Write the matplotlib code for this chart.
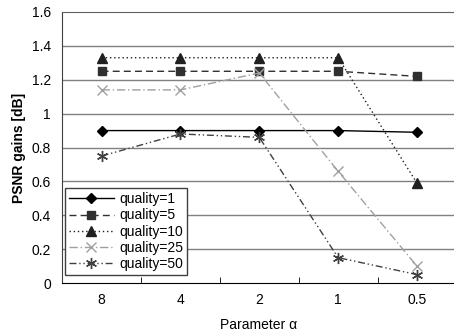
import matplotlib
matplotlib.use('Agg')
import matplotlib.pyplot as plt
import numpy as np

plt.rcParams['font.family'] = ['Liberation Sans', 'DejaVu Sans']

# data
q_labels = ['8', '4', '2', '1', '0.5']
q1 = [0.90, 0.90, 0.90, 0.90, 0.89]
q5 = [1.25, 1.25, 1.25, 1.25, 1.22]
q10 = [1.33, 1.33, 1.33, 1.33, 0.59]
q25 = [1.14, 1.14, 1.24, 0.66, 0.10]
q50 = [0.75, 0.88, 0.86, 0.15, 0.05]

x = np.arange(1, len(q_labels) + 1)

fig = plt.figure(figsize=(4.54, 3.33), dpi=100)
ax = fig.add_axes([0.137, 0.150, 0.863, 0.814])

# horizontal grid
for yv in np.arange(0.2, 1.6, 0.2):
    ax.axhline(yv, color='#808080', lw=1.0, zorder=0)

ax.plot(x, q1, color='black', ls='-', lw=1.0, marker='D', ms=5.5, label='quality=1')
ax.plot(x, q5, color='#303030', ls=(0, (5, 3)), lw=1.0, marker='s', ms=6, label='quality=5')
ax.plot(x, q10, color='#202020', ls=(0, (1, 2)), lw=1.0, marker='^', ms=6.5, label='quality=10')
ax.plot(x, q25, color='#a0a0a0', ls=(0, (6, 2, 1, 2)), lw=1.0, marker='x', ms=7,
        mew=1.0, label='quality=25')
ax.plot(x, q50, color='#404040', ls=(0, (5, 2, 1, 2, 1, 2)), lw=1.0, marker=(6, 2, 0), ms=8,
        mew=1.0, label='quality=50')

ax.set_xlim(0.5, 5.47)
ax.set_ylim(0, 1.6)
ax.set_yticks(np.arange(0, 1.61, 0.2))
ax.set_yticklabels(['0', '0.2', '0.4', '0.6', '0.8', '1', '1.2', '1.4', '1.6'])
ax.set_xticks(x)
ax.set_xticklabels(q_labels)
ax.set_xticks(np.arange(1.5, 5.5, 1), minor=True)
ax.tick_params(axis='x', which='major', length=0, pad=7, labelsize=10)
ax.tick_params(axis='x', which='minor', direction='in', length=4, color='black')
ax.tick_params(axis='y', length=0, pad=8, labelsize=10)

ax.spines['top'].set_linestyle((0, (2, 1)))
ax.spines['top'].set_color('#606060')
ax.spines['right'].set_visible(False)
ax.spines['left'].set_color('#404040')
ax.spines['bottom'].set_color('black')

ax.set_xlabel('Parameter α', fontsize=10, labelpad=8)
ax.set_ylabel('PSNR gains [dB]', fontsize=10, fontweight='bold', labelpad=4)

leg = ax.legend(loc='lower left', bbox_to_anchor=(0.0, 0.02), fontsize=10, frameon=True,
                fancybox=False, edgecolor='#404040', framealpha=1, handlelength=3.2,
                handletextpad=0.4, labelspacing=0.15, borderpad=0.3, borderaxespad=0.2)
leg.get_frame().set_linewidth(1.0)

fig.savefig('out.png', dpi=100)
